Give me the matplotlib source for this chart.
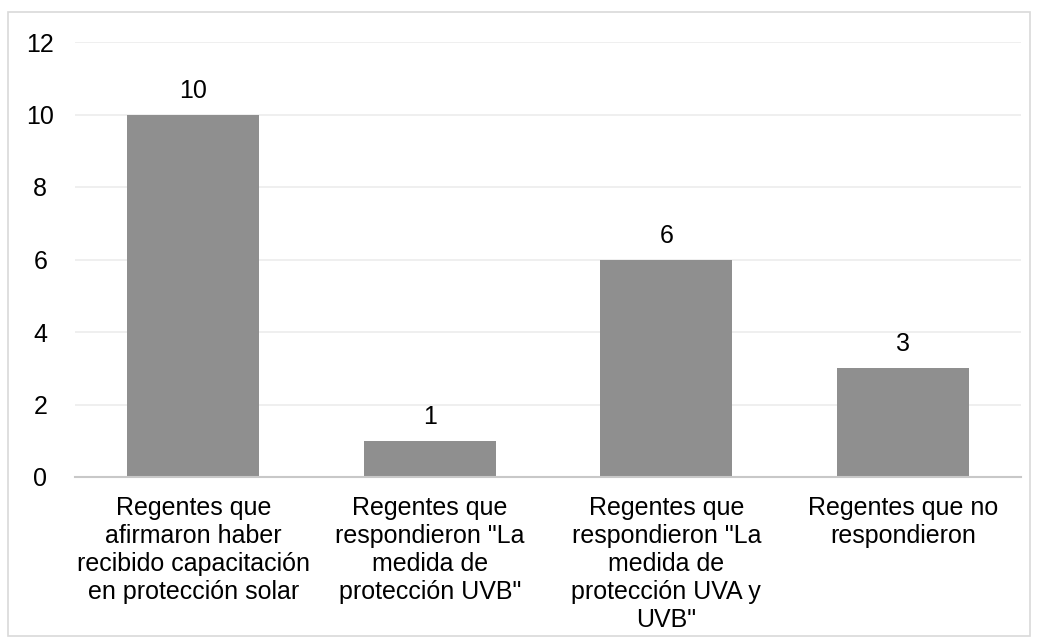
import matplotlib.pyplot as plt
from matplotlib.patches import Rectangle

plt.rcParams['font.family'] = ['Liberation Sans', 'DejaVu Sans']

categories = [
    'Regentes que\nafirmaron haber\nrecibido capacitación\nen protección solar',
    'Regentes que\nrespondieron "La\nmedida de\nprotección UVB"',
    'Regentes que\nrespondieron "La\nmedida de\nprotección UVA y\nUVB"',
    'Regentes que no\nrespondieron',
]
values = [10, 1, 6, 3]
y_ticks = [0, 2, 4, 6, 8, 10, 12]

W, H = 1037, 642
fig = plt.figure(figsize=(W / 100, H / 100), dpi=100)
fig.patches.append(Rectangle((8 / W, 6 / H), 1022 / W, 624 / H, transform=fig.transFigure,
                             fill=False, edgecolor='#d9d9d9', linewidth=1.2))

ax = fig.add_axes([75 / W, 1 - 477 / H, 946 / W, 435 / H])
x = range(len(values))
ax.bar(x, values, width=0.56, color='#8f8f8f', zorder=3)
for xi, v in zip(x, values):
    ax.text(xi, v + 0.33, str(v), ha='center', va='bottom', fontsize=18, color='#000000')

ax.set_xlim(-0.5, len(values) - 0.5)
ax.set_ylim(0, 12)
ax.set_yticks(y_ticks)
ax.set_yticklabels([str(t) for t in y_ticks], fontsize=18)
ax.set_xticks(list(x))
ax.set_xticklabels(categories, fontsize=18, linespacing=1.2)
ax.tick_params(axis='both', length=0)
ax.tick_params(axis='y', pad=25)
ax.tick_params(axis='x', pad=14)
for lbl in ax.get_yticklabels():
    lbl.set_horizontalalignment('center')

ax.grid(axis='y', color='#ececec', linewidth=1.2, zorder=0)
for s in ['top', 'right', 'left']:
    ax.spines[s].set_visible(False)
ax.spines['bottom'].set_color('#c8c8c8')
ax.spines['bottom'].set_linewidth(1.5)
ax.spines['bottom'].set_zorder(4)

fig.savefig('out.png', dpi=100)
